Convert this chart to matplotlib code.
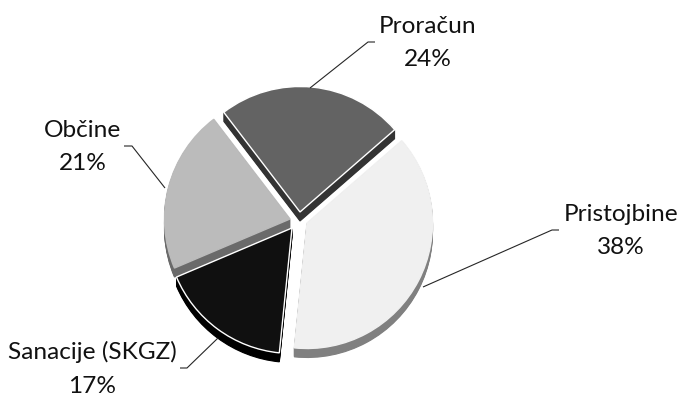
import numpy as np
import matplotlib
matplotlib.use('Agg')
import matplotlib.pyplot as plt

labels = ['Pristojbine', 'Sanacije (SKGZ)', 'Občine', 'Proračun']
shares = [38, 17, 21, 24]
percent_text = ['38%', '17%', '21%', '24%']

W, H = 680, 394
RADIUS = 125.5
DEPTH = 9

# top face / side wall colours and apex of each exploded slice (pixels)
top_colors = ['#f0f0f0', '#101010', '#bbbbbb', '#636363']
wall_colors = ['#808080', '#000000', '#6a6a6a', '#333333']
apex = [(307, 223), (292, 228), (290, 219), (300, 212)]
edge_colors = ['#f0f0f0', '#ffffff', '#bbbbbb', '#ffffff']

label_pos = [(621, 231), (92, 369), (83, 147), (428, 43)]
leaders = [
    [(423, 287), (552, 230), (559, 230)],
    [(218, 338), (187, 368), (180, 368)],
    [(165, 188), (132, 146), (124, 146)],
    [(310, 88), (368, 42), (375, 42)],
]

fig = plt.figure(figsize=(W / 100, H / 100), dpi=100)
ax = fig.add_axes([0, 0, 1, 1])

# y is flipped so pixel positions can be used directly; pie is then built
# in mirrored angle, so it stays clockwise when counterclock=True
ax.set_xlim(0, W)
ax.set_ylim(H, 0)
ax.set_aspect('equal')
ax.axis('off')

order = [3, 2, 0, 1]
for i in order:
    # one pie per wedge, so each slice gets its own centre
    start = -41 + 3.6 * sum(shares[:i])
    for dy, col, ec in [(DEPTH, wall_colors[i], wall_colors[i]), (0, top_colors[i], edge_colors[i])]:
        steps = range(dy, 0, -1) if dy else [0]
        for d in steps:
            ax.pie([shares[i], 100 - shares[i]], startangle=start, counterclock=True,
                   radius=RADIUS, center=(apex[i][0], apex[i][1] + d),
                   colors=[col, 'none'], frame=True,
                   wedgeprops=dict(linewidth=1.0 if d == 0 else 0.8, edgecolor='none'))
            ax.patches[-1].set_visible(False)
            ax.patches[-2].set_edgecolor(ec if d == 0 else col)

for pts in leaders:
    xs, ys = zip(*pts)
    ax.plot(xs, ys, color='#262626', lw=0.8, solid_capstyle='butt', zorder=5)

for i in range(len(labels)):
    ax.text(label_pos[i][0], label_pos[i][1], labels[i] + '\n' + percent_text[i],
            family='Lato', fontsize=17.6, color='#111111', ha='center', va='center',
            linespacing=1.75, zorder=6)

ax.set_xlim(0, W)
ax.set_ylim(H, 0)
ax.axis('off')
fig.savefig('out.png', dpi=100, facecolor='white')
